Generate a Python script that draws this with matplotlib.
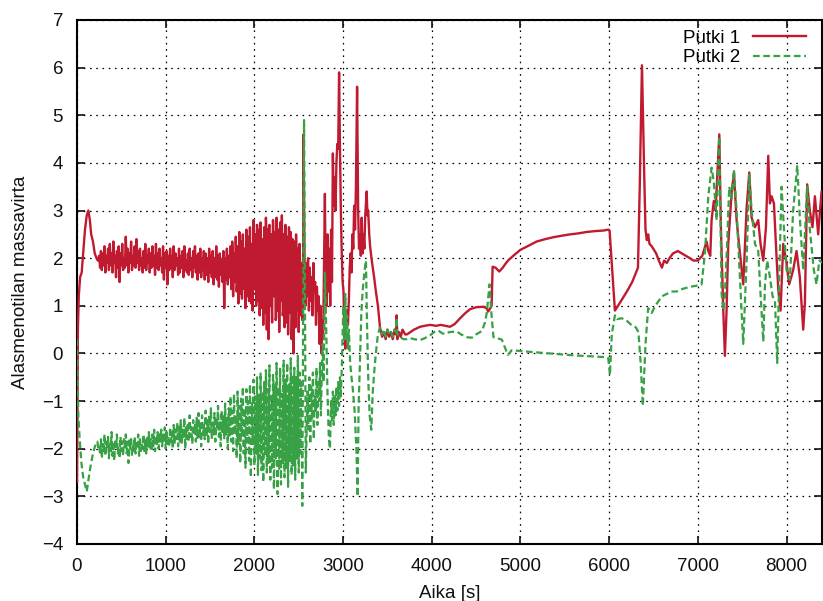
import numpy as np
import matplotlib
matplotlib.use("Agg")
import matplotlib.pyplot as plt

# ---------------- data ----------------
# Putki 1 (red), start-up
p1_t_start = [0, 5, 10, 20, 35, 53, 70, 90, 110, 128, 145, 160, 180, 200, 220, 235]
p1_v_start = [-2.7, -1.0, 0.5, 1.2, 1.6, 1.7, 2.1, 2.6, 2.9, 3.0, 2.8, 2.5, 2.35, 2.1, 2.0, 1.95]

# Putki 1, oscillating part sampled every 10 s from 250 s to 2540 s
p1_v_osc = [
    2.05, 1.80, 2.15, 1.75, 2.10, 1.85, 2.25, 1.70, 2.05, 1.90,
    2.20, 1.75, 2.30, 1.85, 2.10, 1.70, 2.35, 1.90, 2.05, 1.60,
    2.15, 1.80, 2.25, 1.50, 2.10, 1.85, 2.30, 1.75, 2.00, 1.80,
    2.45, 1.85, 2.20, 1.70, 2.10, 1.90, 2.35, 1.75, 2.05, 1.85,
    2.25, 1.80, 2.40, 1.90, 2.15, 1.75, 2.20, 1.85, 2.00, 1.70,
    2.15, 1.80, 2.30, 1.75, 2.05, 1.90, 2.20, 1.70, 2.10, 1.80,
    2.25, 1.85, 2.05, 1.65, 2.30, 1.80, 2.10, 1.75, 2.20, 1.85,
    2.00, 1.70, 2.25, 1.55, 2.10, 1.80, 2.15, 1.45, 2.05, 1.75,
    2.20, 1.80, 2.05, 1.60, 2.25, 1.75, 2.10, 1.85, 2.00, 1.65,
    2.20, 1.70, 2.05, 1.80, 2.15, 1.60, 2.25, 1.75, 1.95, 1.70,
    2.10, 1.65, 2.20, 1.75, 2.00, 1.60, 2.15, 1.80, 2.25, 1.70,
    2.05, 1.55, 2.10, 1.70, 2.20, 1.60, 2.00, 1.75, 2.15, 1.55,
    2.10, 1.65, 2.00, 1.50, 2.20, 1.70, 2.05, 1.60, 2.15, 1.45,
    2.00, 1.60, 2.25, 1.55, 2.05, 1.40, 2.10, 1.65, 1.95, 1.50,
    2.15, 0.95, 2.00, 1.55, 2.20, 1.45, 2.05, 1.60, 2.25, 1.35,
    2.35, 1.20, 2.10, 1.50, 2.45, 1.30, 2.20, 1.05, 2.55, 1.40,
    2.30, 1.15, 2.50, 1.45, 2.20, 0.95, 2.60, 1.30, 2.40, 1.10,
    2.65, 1.20, 2.30, 0.90, 2.80, 1.40, 2.45, 1.00, 2.70, 1.25,
    2.55, 0.80, 2.75, 1.35, 2.40, 0.60, 2.65, 1.15, 2.85, 0.50,
    2.60, 0.30, 2.70, 1.00, 2.50, 0.65, 2.80, 1.20, 2.55, 0.70,
    2.85, 0.90, 2.60, 0.45, 2.75, 1.10, 2.90, 0.80, 2.50, 0.55,
    2.70, 1.00, 2.45, 0.40, 2.65, 0.85, 2.55, 0.30, 2.40, 0.00,
    2.35, 0.60, 2.50, 0.90, 2.20, 0.45, 2.30, 0.80, 1.90, 0.70,
]
# Putki 1, extra in-between samples (1705 s ... 2545 s, every 10 s)
p1_v_osc_mid = [
    1.60, 2.05, 1.75, 1.95, 1.55, 2.10, 1.70, 1.85, 1.50, 2.00,
    1.45, 2.25, 1.65, 2.05, 1.25, 2.35, 1.75, 1.90, 1.35, 2.20,
    1.55, 2.15, 1.20, 2.45, 1.70, 1.95, 1.05, 2.30, 1.60, 2.05,
    1.35, 2.50, 1.75, 2.00, 1.10, 2.60, 1.45, 1.90, 0.95, 2.35,
    1.50, 2.20, 0.85, 2.45, 1.80, 1.65, 2.65, 1.25, 2.05, 1.00,
    1.90, 2.40, 1.40, 2.15, 0.75, 2.55, 1.60, 2.00, 1.20, 2.70,
    1.55, 2.10, 0.90, 2.35, 1.70, 1.85, 0.65, 2.45, 1.30, 2.05,
    1.60, 2.25, 0.80, 1.95, 1.40, 2.10, 0.55, 1.85, 1.25, 2.15,
    1.35, 1.75, 0.95, 1.60, 1.20,
]

p1_t_late = [2550, 2555, 2565, 2575, 2585, 2595, 2605, 2615, 2625, 2635, 2645, 2655, 2665, 2675,
             2685, 2695, 2705, 2715, 2725, 2735, 2745, 2755, 2765, 2775, 2785, 2795, 2805, 2815,
             2825, 2835, 2845, 2855, 2865, 2875, 2885, 2895, 2905, 2915, 2925, 2935, 2945, 2955,
             2965, 2975, 2985, 2995, 3005, 3015, 3025, 3035, 3045, 3055, 3065, 3075, 3085, 3095,
             3105, 3115, 3125, 3135, 3145, 3158, 3170, 3180, 3190, 3200, 3210, 3220, 3230, 3240,
             3250, 3266, 3275, 3283, 3295, 3305, 3320, 3335, 3350, 3370, 3393, 3416, 3440, 3460,
             3480, 3500, 3520, 3540, 3560, 3580, 3595, 3604, 3612, 3630, 3650, 3670, 3700, 3720,
             3760, 3800, 3868, 3920, 3980, 4050, 4100, 4206, 4260, 4320, 4380, 4433, 4500, 4580,
             4620, 4636, 4660, 4675, 4686, 4720, 4761, 4800, 4830, 4860, 4919, 4995, 5100, 5183,
             5280, 5371, 5460, 5559, 5650, 5747, 5850, 5935, 5991, 6005, 6065, 6100, 6150, 6200,
             6260, 6325, 6345, 6370, 6395, 6410, 6425, 6440, 6455, 6480, 6530, 6560, 6595, 6620,
             6650, 6680, 6720, 6775, 6820, 6865, 6910, 6950, 7000, 7050, 7099, 7118, 7140, 7155,
             7180, 7200, 7242, 7260, 7287, 7305, 7324, 7343, 7380, 7407, 7437, 7475, 7512, 7550,
             7580, 7606, 7644, 7681, 7707, 7738, 7768, 7794, 7813, 7832, 7858, 7888, 7907, 7933,
             7963, 8000, 8030, 8075, 8113, 8150, 8188, 8207, 8233, 8263, 8293, 8320, 8357, 8395,
             8420]
p1_v_late = [2.1, 4.6, 2.0, 1.0, 1.9, 1.2, 2.0, 0.9, 1.8, 1.1, 1.6, 0.8, 1.9, 1.3,
             1.5, 0.6, 1.4, 0.9, 1.2, 0.2, 1.0, 0.0, 0.7, 0.3, 1.9, 3.35, 1.2, 1.0,
             2.5, 1.3, 2.2, 1.0, 2.6, 1.5, 4.2, 3.1, 3.7, 3.0, 4.0, 4.4, 4.3, 5.9,
             4.3, 3.0, 2.1, 1.5, 1.3, 0.5, 0.1, 0.6, 0.9, 0.6, 1.1, 1.8, 2.1, 1.7,
             2.5, 2.2, 3.1, 2.6, 3.5, 5.6, 3.0, 2.2, 2.5, 2.05, 2.85, 2.1, 2.5, 2.2,
             2.9, 3.4, 2.9, 3.0, 2.5, 2.25, 2.0, 1.8, 1.6, 1.3, 1.0, 0.55, 0.35, 0.45,
             0.3, 0.5, 0.35, 0.45, 0.3, 0.5, 0.4, 0.8, 0.3, 0.45, 0.35, 0.5, 0.4, 0.4,
             0.45, 0.5, 0.56, 0.58, 0.6, 0.58, 0.6, 0.56, 0.62, 0.74, 0.85, 0.93, 0.97, 0.98,
             0.95, 0.88, 0.95, 1.0, 1.82, 1.8, 1.72, 1.8, 1.88, 1.95, 2.05, 2.17, 2.27, 2.35,
             2.4, 2.44, 2.47, 2.5, 2.52, 2.55, 2.57, 2.58, 2.6, 2.58, 0.9, 1.0, 1.15, 1.3,
             1.5, 1.8, 3.5, 6.05, 3.8, 2.6, 2.38, 2.5, 2.3, 2.25, 2.1, 1.95, 1.8, 1.95,
             1.9, 2.0, 2.1, 2.15, 2.1, 2.05, 2.0, 1.95, 1.95, 2.05, 2.35, 2.15, 2.05, 2.8,
             3.2, 3.0, 4.6, 2.65, 0.9, -0.05, 0.9, 2.3, 3.35, 3.8, 2.8, 2.1, 1.45, 3.05,
             3.8, 2.85, 2.65, 2.8, 2.3, 1.95, 2.65, 4.15, 3.15, 3.3, 3.15, 2.0, 1.35, 0.9,
             2.3, 1.9, 1.45, 1.75, 2.15, 1.6, 0.5, 1.05, 3.55, 3.0, 2.65, 3.3, 2.5, 3.4,
             3.0]

# Putki 2 (green), start-up
p2_t_start = [0, 5, 15, 30, 50, 70, 90, 110, 125, 150, 180, 210, 230, 240]
p2_v_start = [0.3, -0.5, -1.3, -1.8, -2.3, -2.6, -2.75, -2.9, -2.7, -2.4, -2.1, -1.9, -1.85, -2.0]

# Putki 2, oscillating part sampled every 10 s from 250 s to 2540 s
p2_v_osc = [
    -1.95, -2.10, -1.80, -2.20, -1.90, -2.05, -1.70, -2.15, -1.85, -2.00,
    -1.75, -2.20, -1.90, -2.05, -1.65, -2.15, -1.85, -2.25, -1.80, -2.00,
    -1.70, -2.10, -1.95, -2.20, -1.75, -2.05, -1.85, -2.15, -1.80, -1.95,
    -1.70, -2.10, -1.85, -2.30, -1.80, -2.00, -1.75, -2.15, -1.90, -2.05,
    -1.75, -2.10, -1.85, -1.95, -1.70, -2.15, -1.80, -2.05, -1.90, -2.00,
    -1.70, -2.05, -1.80, -2.10, -1.75, -1.95, -1.65, -2.00, -1.80, -2.05,
    -1.70, -1.95, -1.60, -2.05, -1.75, -1.90, -1.65, -2.00, -1.70, -1.85,
    -1.60, -1.95, -1.70, -1.85, -1.55, -2.00, -1.65, -1.90, -1.75, -1.95,
    -1.55, -1.85, -1.65, -2.00, -1.50, -1.90, -1.60, -1.80, -1.45, -1.95,
    -1.55, -1.85, -1.40, -1.90, -1.60, -1.75, -1.35, -2.00, -1.55, -1.80,
    -1.45, -1.85, -1.30, -1.75, -1.55, -1.90, -1.40, -1.70, -1.50, -1.85,
    -1.35, -1.80, -1.25, -1.75, -1.45, -1.95, -1.30, -1.70, -1.50, -1.80,
    -1.20, -1.75, -1.40, -1.90, -1.30, -1.65, -1.15, -1.80, -1.45, -1.70,
    -1.25, -1.85, -1.35, -1.60, -1.10, -1.75, -1.40, -1.95, -1.20, -1.65,
    -1.30, -1.80, -1.05, -1.70, -1.35, -2.00, -1.15, -1.75, -0.90, -1.85,
    -1.20, -2.05, -0.85, -1.70, -1.30, -2.20, -0.80, -1.90, -1.10, -2.30,
    -0.95, -1.75, -0.70, -2.10, -1.20, -2.40, -0.75, -1.85, -1.00, -2.25,
    -0.65, -2.60, -1.05, -1.90, -0.55, -2.35, -0.90, -2.10, -0.50, -2.55,
    -0.85, -2.20, -0.40, -2.45, -1.00, -2.70, -0.60, -2.15, -0.35, -2.50,
    -0.75, -2.30, -0.25, -2.65, -0.90, -2.40, -0.45, -2.85, -0.65, -2.20,
    -0.20, -2.95, -0.70, -2.45, -0.30, -2.75, -0.85, -2.30, -0.15, -2.60,
    -0.55, -2.40, -0.20, -2.80, -0.65, -2.25, -0.10, -2.55, -0.45, -2.35,
    -0.30, -2.65, -0.50, -2.20, -0.05, -2.50, -0.40, -2.10, -0.60, -3.20,
]
# Putki 2, extra in-between samples (1705 s ... 2545 s, every 10 s)
p2_v_osc_mid = [
    -1.55, -1.20, -1.65, -1.35, -1.75, -1.30, -1.50, -1.25, -1.60, -1.40,
    -1.70, -1.10, -1.55, -1.35, -1.95, -1.05, -1.45, -1.60, -1.15, -1.80,
    -1.30, -1.65, -1.00, -1.90, -1.45, -1.25, -2.05, -1.10, -1.70, -1.35,
    -1.85, -0.95, -1.55, -1.30, -2.10, -1.00, -1.75, -1.40, -2.25, -0.80,
    -1.60, -1.20, -2.00, -0.70, -1.45, -1.85, -0.90, -2.15, -1.30, -1.05,
    -1.75, -0.60, -2.30, -1.20, -1.55, -0.85, -2.05, -1.40, -0.95, -1.90,
    -1.10, -2.20, -0.70, -1.60, -1.35, -2.00, -0.80, -1.75, -1.25, -0.65,
    -2.10, -1.05, -1.50, -0.55, -1.90, -1.20, -0.75, -2.00, -1.40, -0.90,
    -1.70, -1.15, -0.85, -1.60, -1.10,
]

p2_t_late = [2550, 2560, 2570, 2580, 2590, 2600, 2610, 2620, 2630, 2640, 2650, 2660, 2670, 2680,
             2690, 2700, 2710, 2720, 2730, 2740, 2750, 2760, 2770, 2780, 2796, 2810, 2825, 2840,
             2852, 2865, 2875, 2885, 2895, 2905, 2915, 2925, 2935, 2945, 2955, 2965, 2975, 2985,
             3003, 3015, 3025, 3035, 3045, 3055, 3065, 3080, 3095, 3110, 3130, 3150, 3164, 3175,
             3190, 3205, 3220, 3240, 3258, 3270, 3285, 3300, 3318, 3335, 3355, 3375, 3393, 3416,
             3440, 3460, 3480, 3500, 3520, 3540, 3560, 3580, 3595, 3604, 3612, 3640, 3680, 3720,
             3760, 3800, 3868, 3920, 3980, 4030, 4075, 4120, 4150, 4200, 4283, 4330, 4400, 4452,
             4500, 4565, 4600, 4621, 4651, 4670, 4696, 4740, 4790, 4830, 4858, 4903, 5000, 5200,
             5400, 5600, 5800, 5971, 5990, 6009, 6030, 6065, 6090, 6140, 6196, 6250, 6300, 6330,
             6355, 6380, 6410, 6440, 6480, 6520, 6595, 6650, 6700, 6760, 6820, 6910, 6980, 7042,
             7080, 7118, 7155, 7180, 7212, 7242, 7268, 7287, 7305, 7330, 7354, 7380, 7407, 7437,
             7475, 7512, 7550, 7580, 7606, 7644, 7681, 7707, 7738, 7757, 7782, 7813, 7843, 7870,
             7895, 7918, 7944, 7970, 8000, 8038, 8075, 8121, 8150, 8188, 8233, 8263, 8308, 8338,
             8370, 8410]
p2_v_late = [1.0, 4.9, 1.0, -2.5, -1.5, -0.8, -1.6, -0.5, -1.9, -0.7, -1.4, -0.4, -1.8, -0.9,
             -1.2, -0.3, -1.5, -0.6, -1.0, -0.2, -1.3, -0.4, 0.2, -0.6, 1.7, 0.5, -0.9, -1.8,
             -2.0, -1.0, -1.4, -0.8, -1.5, -0.9, -1.3, -0.7, -1.2, -0.6, -1.1, -0.5, -0.9, -0.35,
             1.0, 0.3, 1.25, 0.3, 0.8, 0.1, 0.5, -0.2, -0.5, -0.75, -1.2, -2.0, -3.0, -1.1,
             -0.2, 0.8, 1.3, 1.7, 1.95, 0.6, -0.6, -1.3, -1.6, -0.8, -0.3, 0.1, 0.4, 0.55,
             0.4, 0.5, 0.35, 0.5, 0.4, 0.45, 0.35, 0.5, 0.45, 0.75, 0.4, 0.35, 0.3, 0.3,
             0.32, 0.3, 0.28, 0.32, 0.38, 0.45, 0.48, 0.42, 0.41, 0.45, 0.46, 0.4, 0.34, 0.33,
             0.4, 0.47, 0.65, 0.86, 1.45, 0.9, 0.34, 0.32, 0.29, 0.1, -0.03, 0.07, 0.05, 0.02,
             -0.01, -0.04, -0.06, -0.08, -0.1, -0.45, 0.4, 0.8, 0.72, 0.74, 0.69, 0.6, 0.55, 0.45,
             -0.2, -1.1, 0.2, 0.95, 0.85, 1.0, 1.2, 1.25, 1.3, 1.3, 1.35, 1.4, 1.42, 1.45,
             2.1, 3.3, 3.9, 3.6, 2.8, 4.55, 1.25, 0.9, 1.2, 2.3, 3.5, 3.25, 3.85, 3.0,
             1.6, 0.2, 1.95, 3.75, 3.0, 2.3, 2.15, 1.25, 0.25, 1.45, 1.95, 1.6, 1.2, 1.1,
             -0.2, 1.6, 3.5, 2.65, 1.75, 1.55, 3.0, 3.95, 2.85, 1.75, 3.5, 2.6, 1.75, 1.45,
             1.95, 1.9]

osc_t = list(range(250, 2550, 10))
osc_mid_t = list(range(1705, 2550, 10))

x_ticks = [0, 1000, 2000, 3000, 4000, 5000, 6000, 7000, 8000]
y_ticks = [-4, -3, -2, -1, 0, 1, 2, 3, 4, 5, 6, 7]
series_labels = ["Putki 1", "Putki 2"]
x_label = "Aika [s]"
y_label = "Alasmenotilan massavirta"


def build(t_parts, v_parts):
    t = np.concatenate([np.asarray(p, dtype=float) for p in t_parts])
    v = np.concatenate([np.asarray(p, dtype=float) for p in v_parts])
    order = np.argsort(t, kind='stable')
    return t[order], v[order]


# ---------------- plot ----------------
plt.rcParams['font.family'] = ['Liberation Sans', 'DejaVu Sans']

t1, v1 = build([p1_t_start, osc_t, osc_mid_t, p1_t_late],
               [p1_v_start, p1_v_osc, p1_v_osc_mid, p1_v_late])
t2, v2 = build([p2_t_start, osc_t, osc_mid_t, p2_t_late],
               [p2_v_start, p2_v_osc, p2_v_osc_mid, p2_v_late])

red = '#c01a30'
green = '#38a045'

fig = plt.figure(figsize=(8.23, 6.01), dpi=100)
ax = fig.add_axes([77/823, 57/601, (822-77)/823, (544-20)/601])

ax.plot(t1, v1, color=red, lw=1.7, label=series_labels[0], zorder=3)
ax.plot(t2, v2, color=green, lw=1.6, dashes=(3.0, 1.6), label=series_labels[1], zorder=4)

ax.set_xlim(0, 8400)
ax.set_ylim(-4, 7)
ax.set_xticks(x_ticks)
ax.set_yticks(y_ticks)
ax.grid(True, color='black', linestyle=(0, (1.3, 3.7)), linewidth=0.9)
ax.set_axisbelow(True)

for s in ax.spines.values():
    s.set_linewidth(1.5)
    s.set_color('black')

ax.tick_params(direction='in', length=6, width=1.2, top=True, right=True,
               labelsize=13.5, colors='#111111')
ax.tick_params(axis='x', pad=10)
ax.tick_params(axis='y', pad=10)
ax.set_xlabel(x_label, fontsize=13.5, color='#111111', labelpad=7)
ax.set_ylabel(y_label, fontsize=13.5, color='#111111', labelpad=9)

leg = ax.legend(loc='upper right', frameon=False, fontsize=13.5, handlelength=2.8,
                markerfirst=False, borderaxespad=0.0, handletextpad=0.7,
                labelspacing=0.12, bbox_to_anchor=(0.988, 0.996))

fig.savefig('out.png', dpi=100)
